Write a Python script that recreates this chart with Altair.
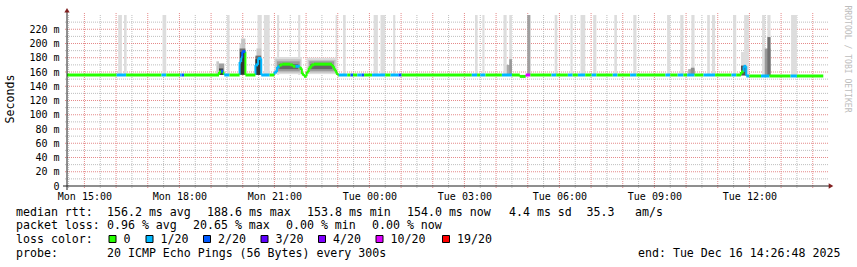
import altair as alt
import pandas as pd

MONO = "DejaVu Sans Mono"
L, TOP, W, H = 67, 15, 760, 171
FS_AX, FS_LEG = 10, 11.6

DAYS = {"Mon": "2025-12-15", "Tue": "2025-12-16"}


def T(s):
    d, hm = s.split()
    return pd.Timestamp(f"{DAYS[d]} {hm}")


def DT(s):
    t = T(s)
    return alt.DateTime(year=t.year, month=t.month, date=t.day, hours=t.hour, minutes=t.minute)


# ---------------- values ----------------
window = ["Mon 14:27", "Tue 14:27"]
data_span = ["Mon 14:27", "Tue 14:20"]
base_ms = [155.8, 154.4]
base_switch = "Tue 11:54"

# median rtt where it leaves the baseline (ms)
med_start = ["Mon 19:15", "Mon 19:19", "Mon 19:23", "Mon 19:54", "Mon 19:57", "Mon 19:59",
             "Mon 20:24", "Mon 20:29", "Mon 21:00", "Mon 21:05", "Mon 21:10", "Mon 21:15",
             "Mon 21:30", "Mon 21:35", "Mon 21:48", "Mon 21:52", "Mon 21:56", "Mon 22:01",
             "Mon 22:05", "Mon 22:10", "Mon 22:15", "Mon 22:49", "Mon 22:53", "Mon 22:57",
             "Tue 04:45", "Tue 11:44", "Tue 11:49"]
med_end = ["Mon 19:19", "Mon 19:23", "Mon 19:25", "Mon 19:57", "Mon 19:59", "Mon 20:05",
           "Mon 20:29", "Mon 20:35", "Mon 21:05", "Mon 21:10", "Mon 21:15", "Mon 21:30",
           "Mon 21:35", "Mon 21:48", "Mon 21:52", "Mon 21:56", "Mon 22:01", "Mon 22:05",
           "Mon 22:10", "Mon 22:15", "Mon 22:49", "Mon 22:53", "Mon 22:57", "Mon 23:00",
           "Tue 04:56", "Tue 11:49", "Tue 11:54"]
med_ms = [160, 161, 158, 174, 180, 188.6,
          170, 179, 160, 167, 170, 171,
          170, 168, 165, 157, 154, 160,
          166, 170, 171, 168, 163, 158,
          153.8, 160, 168]

# packet loss runs (lost pings out of 20)
loss_start = ["Mon 16:01", "Mon 17:26", "Mon 18:01", "Mon 18:04", "Mon 19:19", "Mon 19:25",
              "Mon 19:54", "Mon 19:59", "Mon 20:24", "Mon 21:00", "Mon 21:40", "Mon 23:02",
              "Mon 23:24", "Mon 23:37", "Mon 23:45", "Tue 00:05", "Tue 00:40", "Tue 00:55",
              "Tue 03:14", "Tue 03:30", "Tue 04:11", "Tue 04:56", "Tue 05:45", "Tue 06:16",
              "Tue 06:35", "Tue 07:01", "Tue 07:41", "Tue 08:14", "Tue 09:21", "Tue 09:44",
              "Tue 10:02", "Tue 10:33", "Tue 11:26", "Tue 11:49", "Tue 12:22", "Tue 13:18"]
loss_end = ["Mon 16:19", "Mon 17:35", "Mon 18:04", "Mon 18:09", "Mon 19:23", "Mon 19:35",
            "Mon 19:59", "Mon 20:05", "Mon 20:51", "Mon 21:10", "Mon 21:48", "Mon 23:18",
            "Mon 23:29", "Mon 23:45", "Mon 23:50", "Tue 00:30", "Tue 00:55", "Tue 01:01",
            "Tue 03:24", "Tue 03:40", "Tue 04:30", "Tue 05:05", "Tue 05:54", "Tue 06:25",
            "Tue 06:49", "Tue 07:10", "Tue 07:50", "Tue 08:26", "Tue 09:30", "Tue 09:55",
            "Tue 10:16", "Tue 10:55", "Tue 11:35", "Tue 12:00", "Tue 12:38", "Tue 13:30"]
loss_n = [1, 1, 1, 2, 2, 1,
          1, 2, 1, 1, 1, 1,
          2, 1, 2, 1, 1, 2,
          1, 1, 1, 10, 1, 1,
          1, 1, 1, 1, 1, 1,
          1, 1, 1, 1, 1, 1]

# tall light smoke bars (slowest ping off the scale)
bar_start = ["Mon 16:04", "Mon 16:15", "Mon 17:28", "Mon 19:30", "Mon 20:28", "Mon 20:40",
             "Mon 21:05", "Mon 21:45", "Mon 22:56", "Mon 23:10", "Tue 00:08", "Tue 00:21",
             "Tue 00:45", "Tue 03:20", "Tue 03:34", "Tue 04:14", "Tue 04:25", "Tue 05:51",
             "Tue 06:21", "Tue 06:40", "Tue 07:04", "Tue 07:44", "Tue 08:20", "Tue 09:24",
             "Tue 09:49", "Tue 10:10", "Tue 10:40", "Tue 10:49", "Tue 11:29", "Tue 11:50",
             "Tue 12:24", "Tue 12:34", "Tue 13:19"]
bar_end = ["Mon 16:11", "Mon 16:20", "Mon 17:35", "Mon 19:35", "Mon 20:36", "Mon 20:51",
           "Mon 21:09", "Mon 21:49", "Mon 22:59", "Mon 23:15", "Tue 00:16", "Tue 00:30",
           "Tue 00:49", "Tue 03:25", "Tue 03:38", "Tue 04:20", "Tue 04:30", "Tue 05:56",
           "Tue 06:25", "Tue 06:49", "Tue 07:10", "Tue 07:49", "Tue 08:26", "Tue 09:30",
           "Tue 09:55", "Tue 10:16", "Tue 10:45", "Tue 10:55", "Tue 11:35", "Tue 11:59",
           "Tue 12:30", "Tue 12:40", "Tue 13:30"]

# smoke bands (ping spread): start, end, low ms, high ms, grey
smoke_start = ["Mon 19:10", "Mon 19:15", "Mon 19:15", "Mon 19:54", "Mon 19:57", "Mon 19:54",
               "Mon 19:55", "Mon 20:26", "Mon 20:24", "Mon 20:24",
               "Mon 21:00", "Mon 21:02", "Mon 21:05", "Mon 21:08",
               "Mon 22:01", "Mon 22:04", "Mon 22:06", "Mon 22:08",
               "Tue 04:20", "Tue 04:25", "Tue 04:59", "Tue 10:04", "Tue 10:09",
               "Tue 11:44", "Tue 11:44", "Tue 12:29", "Tue 12:34"]
smoke_end = ["Mon 19:15", "Mon 19:25", "Mon 19:23", "Mon 19:57", "Mon 20:05", "Mon 20:05",
             "Mon 20:04", "Mon 20:35", "Mon 20:35", "Mon 20:34",
             "Mon 21:52", "Mon 21:50", "Mon 21:48", "Mon 21:45",
             "Mon 22:59", "Mon 22:56", "Mon 22:53", "Mon 22:50",
             "Tue 04:30", "Tue 04:30", "Tue 05:05", "Tue 10:16", "Tue 10:16",
             "Tue 11:54", "Tue 11:54", "Tue 12:40", "Tue 12:40"]
smoke_lo = [155.8, 155.8, 155.8, 155.8, 155.8, 155.8,
            156.5, 155.8, 155.8, 156,
            157, 159, 161, 164,
            157, 159, 161, 164,
            155.8, 155.8, 155.8, 155.8, 155.8,
            155.8, 155, 154.4, 154.4]
smoke_hi = [175, 172, 165, 200, 207, 193,
            188, 193, 183, 178,
            181, 178, 175, 171,
            180, 177, 175, 171,
            170, 178, 240, 164, 166,
            188, 169, 193, 209]
smoke_grey = ["#c8c8c8", "#a0a0a0", "#404040", "#d0d0d0", "#c4c4c4", "#707070",
              "#333333", "#c8c8c8", "#707070", "#333333",
              "#dddddd", "#c4c4c4", "#9a9a9a", "#666666",
              "#dddddd", "#c4c4c4", "#9a9a9a", "#666666",
              "#aaaaaa", "#999999", "#a0a0a0", "#aaaaaa", "#909090",
              "#dddddd", "#505050", "#999999", "#707070"]

loss_labels = ["0", "1/20", "2/20", "3/20", "4/20", "10/20", "19/20"]
loss_values = [0, 1, 2, 3, 4, 10, 19]
loss_colors = ["#26ff00", "#00b8ff", "#0059ff", "#5e00ff", "#7e00ff", "#dd00ff", "#ff0000"]

y_ticks = list(range(0, 221, 20))
y_minor = list(range(10, 231, 20))
x_label_times = ["Mon 15:00", "Mon 18:00", "Mon 21:00", "Tue 00:00",
                 "Tue 03:00", "Tue 06:00", "Tue 09:00", "Tue 12:00"]

# ---------------- tables ----------------
lab = dict(zip(loss_values, loss_labels))
mins = pd.date_range(T(data_span[0]), T(data_span[1]), freq="1min", inclusive="left")
val = pd.Series(base_ms[0], index=mins, dtype=float)
val[mins >= T(base_switch)] = base_ms[1]
lost = pd.Series(0, index=mins)
for s, e, v in zip(med_start, med_end, med_ms):
    val[(mins >= T(s)) & (mins < T(e))] = v
for s, e, n in zip(loss_start, loss_end, loss_n):
    lost[(mins >= T(s)) & (mins < T(e))] = n
rows = []
one = pd.Timedelta(minutes=1)
for t, v, n in zip(mins, val, lost):
    if rows and rows[-1]["ms"] == v and rows[-1]["n"] == n:
        rows[-1]["t1"] = t + one
    else:
        rows.append({"t0": t, "t1": t + one, "ms": v, "n": n})
for r in rows:
    r["loss"] = lab[r["n"]]
med_df = pd.DataFrame(rows)
conn = []
for a, b in zip(rows[:-1], rows[1:]):
    if abs(a["ms"] - b["ms"]) > 0.5:
        conn.append({"t": b["t0"], "a": a["ms"], "b": b["ms"], "loss": b["loss"]})
conn_df = pd.DataFrame(conn)

bar_df = pd.DataFrame({"t0": [T(s) for s in bar_start], "t1": [T(s) for s in bar_end],
                       "lo": base_ms[0], "hi": 240})
smoke_df = pd.DataFrame({"t0": [T(s) for s in smoke_start], "t1": [T(s) for s in smoke_end],
                         "lo": smoke_lo, "hi": smoke_hi, "grey": smoke_grey,
                         "order": range(len(smoke_start))})

half_hours = list(pd.date_range(T("Mon 14:30"), T("Tue 14:00"), freq="60min"))
hours = list(pd.date_range(T("Mon 15:00"), T("Tue 14:00"), freq="60min"))
vgrid_minor = pd.DataFrame({"t": half_hours})
vgrid_major = pd.DataFrame({"t": hours})
hgrid_minor = pd.DataFrame({"v": y_minor})
hgrid_major = pd.DataFrame({"v": y_ticks[1:]})

# ---------------- scales / axes ----------------
XS = alt.Scale(domain=[DT(window[0]), DT(window[1])])
YS = alt.Scale(domain=[0, 240], nice=False, zero=True)
X_AXIS = alt.Axis(values=[DT(s) for s in x_label_times], format="%a %H:%M", labelFont=MONO,
                  labelFontSize=FS_AX, labelColor="#000000", ticks=False, domain=False,
                  grid=False, labelPadding=5, title=None, labelFlush=False, labelOverlap=False)
Y_AXIS = alt.Axis(values=y_ticks, labelExpr="datum.value == 0 ? '0' : datum.value + ' m'",
                  labelFont=MONO, labelFontSize=FS_AX, labelColor="#000000", ticks=False,
                  domain=False, grid=False, labelPadding=8, title=None)


def X(f):
    return alt.X(f, scale=XS, axis=X_AXIS)


def Y(f):
    return alt.Y(f, scale=YS, axis=Y_AXIS)


GRID = "#a8a8a8"
MGRID = "#e58a8a"
ARROW = "#801f1f"
AXISC = "#1f1f1f"

layers = []
layers.append(alt.Chart(hgrid_minor).mark_rule(color=GRID, strokeDash=[1, 1], strokeWidth=1, opacity=0.75)
              .encode(y=Y("v:Q"), x=alt.value(-2), x2=alt.value(W + 2)))
layers.append(alt.Chart(vgrid_minor).mark_rule(color=GRID, strokeDash=[1, 1], strokeWidth=1, opacity=0.75)
              .encode(x=X("t:T"), y=alt.value(0), y2=alt.value(H + 2)))
layers.append(alt.Chart(hgrid_major).mark_rule(color=MGRID, strokeDash=[1, 1], strokeWidth=1)
              .encode(y=Y("v:Q"), x=alt.value(-2), x2=alt.value(W + 2)))
layers.append(alt.Chart(vgrid_major).mark_rule(color=MGRID, strokeDash=[1, 1], strokeWidth=1)
              .encode(x=X("t:T"), y=alt.value(-2), y2=alt.value(H + 3)))

layers.append(alt.Chart(bar_df).mark_rect(color="#dddddd")
              .encode(x=X("t0:T"), x2="t1:T", y=Y("lo:Q"), y2="hi:Q"))
layers.append(alt.Chart(smoke_df).mark_rect()
              .encode(x=X("t0:T"), x2="t1:T", y=Y("lo:Q"), y2="hi:Q",
                      color=alt.Color("grey:N", scale=None),
                      order=alt.Order("order:Q")))

LC = alt.Scale(domain=loss_labels, range=loss_colors)
layers.append(alt.Chart(conn_df).mark_rule(strokeWidth=2)
              .encode(x=X("t:T"), y=Y("a:Q"), y2="b:Q",
                      color=alt.Color("loss:N", scale=LC, legend=None)))
layers.append(alt.Chart(med_df).mark_rule(strokeWidth=3, strokeCap="butt")
              .encode(x=X("t0:T"), x2="t1:T", y=Y("ms:Q"),
                      color=alt.Color("loss:N", scale=LC, legend=None)))

ONE = pd.DataFrame({"k": [0]})


def px_rule(x1, y1, x2, y2, color, w=1):
    return alt.Chart(ONE).mark_rule(color=color, strokeWidth=w).encode(
        x=alt.value(x1 - L), x2=alt.value(x2 - L), y=alt.value(y1 - TOP), y2=alt.value(y2 - TOP))


def px_text(s, x, y, size=FS_LEG, color="#000000", **kw):
    return alt.Chart(ONE).mark_text(font=MONO, fontSize=size, color=color,
                                    align=kw.pop("align", "left"),
                                    baseline=kw.pop("baseline", "alphabetic"), **kw).encode(
        x=alt.value(x - L), y=alt.value(y - TOP), text=alt.value(s))


def px_rect(x1, y1, x2, y2, fill):
    return alt.Chart(ONE).mark_rect(color=fill, stroke="#000000", strokeWidth=1).encode(
        x=alt.value(x1 - L), x2=alt.value(x2 - L), y=alt.value(y1 - TOP), y2=alt.value(y2 - TOP))


# axes and arrows
layers.append(px_rule(63, TOP + H, 831, TOP + H, AXISC))
layers.append(px_rule(L, TOP + H + 4, L, 11, AXISC))
layers.append(alt.Chart(ONE).mark_point(shape="triangle-up", filled=True, color=ARROW, size=28, opacity=1)
              .encode(x=alt.value(0), y=alt.value(10.3 - TOP)))
layers.append(alt.Chart(ONE).mark_point(shape="triangle-right", filled=True, color=ARROW, size=28, opacity=1)
              .encode(x=alt.value(831 - L), y=alt.value(H)))

# titles and legend text
layers.append(px_text("Seconds", 10.5, 99, angle=270, align="center", baseline="middle"))
layers.append(px_text("RRDTOOL / TOBI OETIKER", 847, 59, size=8.1, color="#bdbdbd",
                      angle=90, align="center", baseline="middle"))

legend_rows = [
    (215.5, [("median rtt:", 16), ("156.2 ms avg", 107), ("188.6 ms max", 207), ("153.8 ms min", 307),
             ("154.0 ms now", 407), ("4.4 ms sd", 509), ("35.3", 586.5), ("am/s", 635)]),
    (229.2, [("packet loss:", 16), ("0.96 % avg", 107), ("20.65 % max", 193), ("0.00 % min", 286),
             ("0.00 % now", 372)]),
    (243.3, [("loss color:", 16)]),
    (256.7, [("probe:", 16), ("20 ICMP Echo Pings (56 Bytes) every 300s", 107),
             ("end: Tue Dec 16 14:26:48 2025", 638)]),
]
for yb, items in legend_rows:
    for s, x in items:
        layers.append(px_text(s, x, yb))

sq_x = [109, 146, 203.5, 261, 318.5, 376, 442.5]
for xq, lbl, col in zip(sq_x, loss_labels, loss_colors):
    layers.append(px_rect(xq, 235.5, xq + 7, 242.5, col))
    layers.append(px_text(lbl, xq + 14.5, 243.3))

chart = alt.layer(*layers).properties(
    width=W, height=H,
    padding={"left": L, "top": TOP, "right": 857 - L - W, "bottom": 267 - TOP - H},
    autosize=alt.AutoSizeParams(type="none"),
    background="#ffffff",
).configure_view(stroke=None)

chart.save("out.html", embed_options={"renderer": "svg", "actions": False})
